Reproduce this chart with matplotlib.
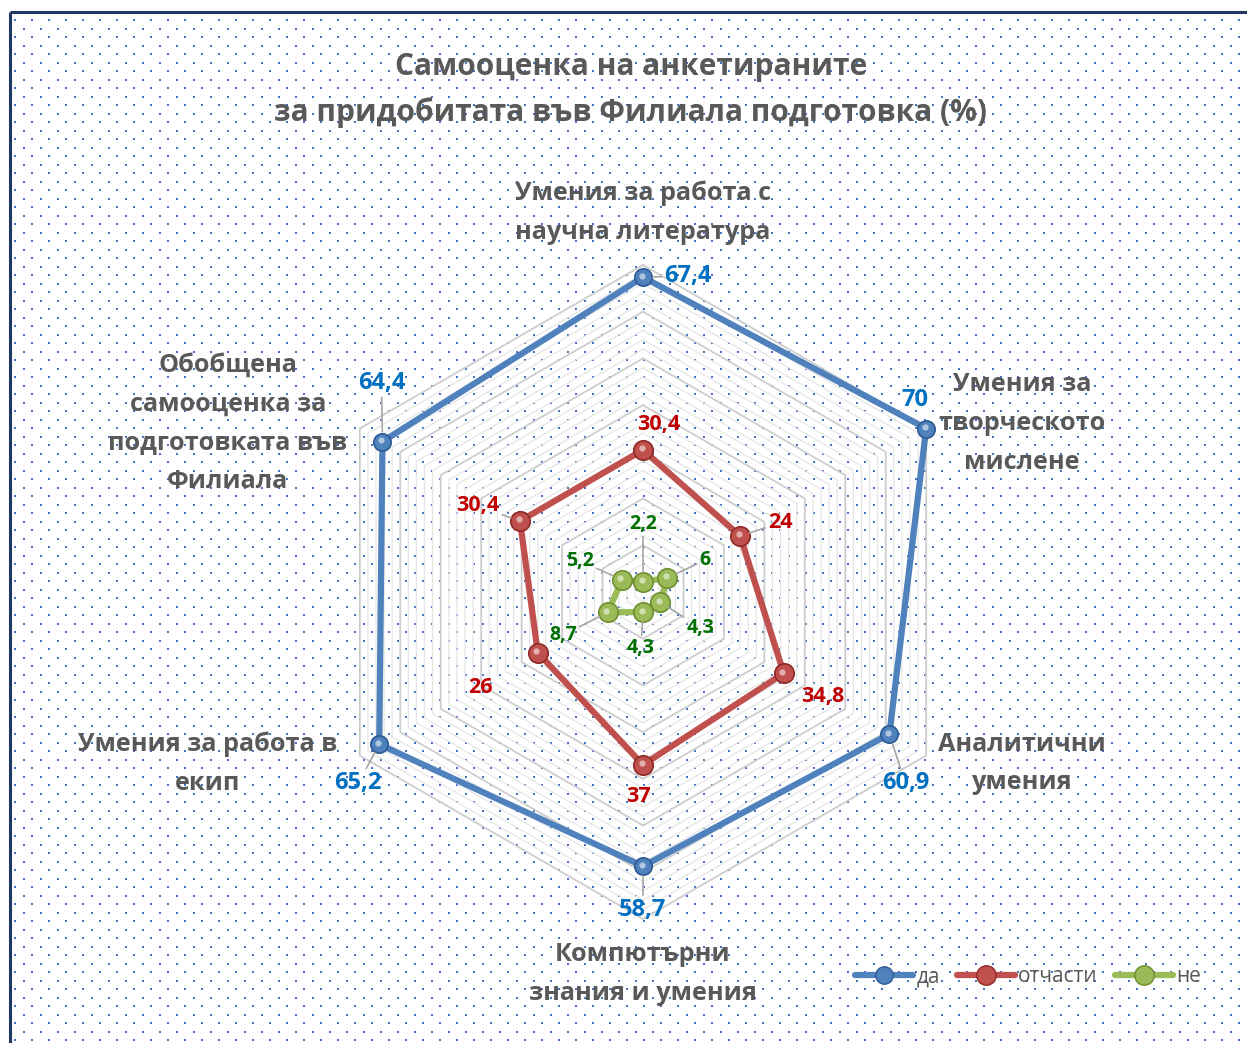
import numpy as np
import matplotlib.pyplot as plt
from matplotlib.lines import Line2D
from matplotlib.transforms import ScaledTranslation

plt.rcParams['font.family'] = ['Open Sans', 'DejaVu Sans']

# data
categories = ['Умения за работа с\nнаучна литература',
              'Умения за\nтворческото\nмислене',
              'Аналитични\nумения',
              'Компютърни\nзнания и умения',
              'Умения за работа в\nекип',
              'Обобщена\nсамооценка за\nподготовката във\nФилиала']
series_names = ['да', 'отчасти', 'не']
da = [67.4, 70, 60.9, 58.7, 65.2, 64.4]
otchasti = [30.4, 24, 34.8, 37, 26, 30.4]
ne = [2.2, 6, 4.3, 4.3, 8.7, 5.2]
title = 'Самооценка на анкетираните\nза придобитата във Филиала подготовка (%)'

# styles
line_colors = ['#4F81BD', '#C0504D', '#9BBB59']
edge_colors = ['#2C5A94', '#8E2A27', '#6E8E30']
label_colors = ['#0070C0', '#C00000', '#007000']
label_sizes = [17, 15.5, 14]
marker_sizes = [12.5, 14, 14]
# label offsets in pixels from the point, and whether a leader line is drawn
offsets = [
    [(45, 1), (-11, 28), (16, -49), (0, -44), (-21, -39), (-1, 59)],
    [(16, 25), (40, 13), (39, -23), (-5, -32), (-57, -35), (-42, 15)],
    [(0, 58), (38, 18), (40, -26), (-2, -36), (-45, -23), (-42, 19)],
]
leaders = [
    [True, False, True, True, True, True],
    [False, True, False, False, False, True],
    [True, True, True, True, True, True],
]
cat_offsets = [(0, 52), (96, 5), (96, -8), (0, -55), (-152, -8), (-132, 5)]

W, H = 1247, 1043
fig = plt.figure(figsize=(W / 100, H / 100), dpi=100)

# background with dotted pattern and frame
bg = fig.add_axes([0, 0, 1, 1], zorder=0)
bg.set_xlim(0, W)
bg.set_ylim(H, 0)
bg.axis('off')
xs, ys = [], []
row = 0
y = 20.0
while y < H:
    x = 15.0 if row % 2 == 0 else 23.5
    while x < W:
        xs.append(x)
        ys.append(y)
        x += 17
    y += 8.5
    row += 1
bg.scatter(xs, ys, s=1.6, marker='s', color='#4472C4', linewidths=0)
bg.plot([10, 10], [H, 12], color='#1F3864', lw=2.2, solid_capstyle='butt')
bg.plot([10, W], [12, 12], color='#1F3864', lw=2.2, solid_capstyle='butt')

# radar axes
cx, cy, R = 643, 592, 327
ax = fig.add_axes([(cx - R) / W, (H - cy - R) / H, 2 * R / W, 2 * R / H],
                  projection='polar', zorder=1)
ax.set_theta_zero_location('N')
ax.set_theta_direction(-1)
ax.set_ylim(0, 70)
ax.axis('off')

n = len(categories)
theta = np.arange(n) * 2 * np.pi / n
theta_c = np.append(theta, theta[0])

# hexagonal grid
for lvl in range(2, 71, 2):
    major = lvl % 10 == 0
    ax.plot(theta_c, [lvl] * (n + 1), color='#CDCDCD' if major else '#E6E6E6',
            lw=1.3 if major else 0.9, zorder=1, clip_on=False)

# series
hl = ScaledTranslation(-1.5 / 100, 1.5 / 100, fig.dpi_scale_trans)
for i, vals in enumerate([da, otchasti, ne]):
    v = np.append(vals, vals[0])
    ax.plot(theta_c, v, color=line_colors[i], lw=4.5, zorder=3,
            solid_joinstyle='round', clip_on=False)
    ax.plot(theta, vals, 'o', ms=marker_sizes[i], mfc=line_colors[i],
            mec=edge_colors[i], mew=1.2, zorder=4, ls='none', clip_on=False)
    ax.plot(theta, vals, 'o', ms=4.5, mfc='white', mec='none', alpha=0.55,
            zorder=5, ls='none', transform=ax.transData + hl, clip_on=False)
    for j, val in enumerate(vals):
        txt = f'{val:g}'.replace('.', ',')
        arrow = None
        if leaders[i][j]:
            arrow = dict(arrowstyle='-', color='#A6A6A6', lw=1.2,
                         shrinkA=0, shrinkB=7)
        ax.annotate(txt, xy=(theta[j], val), xytext=offsets[i][j],
                    textcoords='offset pixels', ha='center', va='center',
                    fontsize=label_sizes[i], fontweight='bold',
                    color=label_colors[i], arrowprops=arrow, zorder=6,
                    annotation_clip=False)

# category labels
for j, cat in enumerate(categories):
    ax.annotate(cat, xy=(theta[j], 70), xytext=cat_offsets[j],
                textcoords='offset pixels', ha='center', va='center',
                fontsize=18.2, fontweight='bold', color='#595959',
                linespacing=1.72, annotation_clip=False)

fig.text(631 / W, 1 - 90 / H, title, ha='center', va='center', fontsize=21.5,
         fontweight='bold', color='#595959', linespacing=1.6)

handles = [Line2D([], [], color=line_colors[i], lw=4.5, marker='o',
                  ms=marker_sizes[i], mfc=line_colors[i], mec=edge_colors[i],
                  solid_capstyle='round')
           for i in range(3)]
fig.legend(handles, series_names, loc='center', ncol=3, frameon=False,
           bbox_to_anchor=(1028 / W, 1 - 977 / H), fontsize=15,
           labelcolor='#595959', handlelength=2.8, handletextpad=0.15,
           columnspacing=0.8)

fig.savefig('out.png', dpi=100)
